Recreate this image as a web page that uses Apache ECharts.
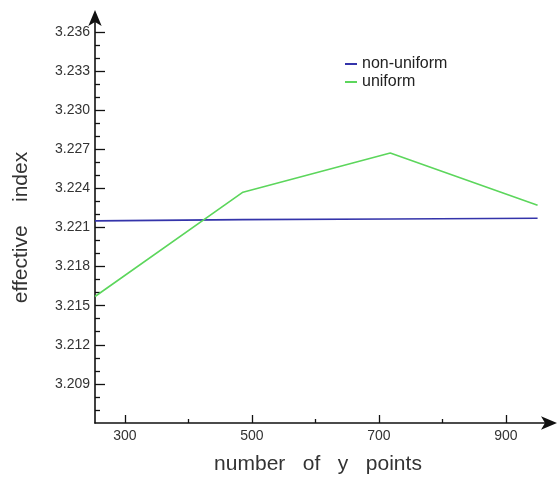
<!DOCTYPE html>
<html>
<head>
<meta charset="utf-8">
<script src="https://cdn.jsdelivr.net/npm/echarts@6/dist/echarts.min.js"></script>
<style>
  html, body { margin: 0; padding: 0; background: #ffffff; }
  #chart { width: 558px; height: 480px; }
</style>
</head>
<body>
<div id="chart"></div>
<script>
// Sample counts along y and the resulting effective index
const xPoints = [253, 486, 718, 950];
const nonUniform = [3.2215, 3.2216, 3.22165, 3.2217];
const uniform = [3.2157, 3.2237, 3.2267, 3.2227];

// Tick positions
const xMajorTicks = [300, 500, 700, 900];
const xMinorTicks = [400, 600, 800];
const yMajorTicks = [3.209, 3.212, 3.215, 3.218, 3.221, 3.224, 3.227, 3.230, 3.233, 3.236];
const yMinorTicks = [3.207, 3.208, 3.210, 3.211, 3.213, 3.214, 3.216, 3.217, 3.219, 3.220,
                     3.222, 3.223, 3.225, 3.226, 3.228, 3.229, 3.231, 3.232, 3.234, 3.235];

const xRange = [253, 968];
const yRange = [3.206, 3.23706];

const fontFamily = 'Liberation Sans, Arial, sans-serif';
const axisColor = '#111';

const chart = echarts.init(document.getElementById('chart'), null, { renderer: 'canvas' });

chart.setOption({
  backgroundColor: '#ffffff',
  animation: false,
  grid: { left: 95, right: 9, top: 18, bottom: 56 },
  legend: {
    orient: 'vertical',
    left: 340,
    top: 51,
    itemWidth: 12,
    itemHeight: 2,
    itemGap: 2,
    icon: 'rect',
    textStyle: { fontFamily: fontFamily, fontSize: 16, color: '#222', padding: [0, 0, 0, 0] },
    data: ['non-uniform', 'uniform']
  },
  xAxis: [
    {
      type: 'value',
      min: xRange[0],
      max: xRange[1],
      name: 'number   of   y   points',
      nameLocation: 'middle',
      nameGap: 31,
      nameTextStyle: { fontFamily: fontFamily, fontSize: 21, color: '#333', padding: [0, 8, 0, 0] },
      splitLine: { show: false },
      axisLine: {
        show: true,
        symbol: ['none', 'arrow'],
        symbolSize: [10, 16],
        symbolOffset: [0, 8],
        lineStyle: { color: axisColor, width: 1.6 }
      },
      axisTick: { show: true, inside: true, length: 8, customValues: xMajorTicks,
                  lineStyle: { color: axisColor, width: 1.3 } },
      axisLabel: { show: true, customValues: xMajorTicks, margin: 6,
                   fontFamily: fontFamily, fontSize: 14, color: '#333' }
    },
    {
      type: 'value',
      min: xRange[0],
      max: xRange[1],
      position: 'bottom',
      splitLine: { show: false },
      axisLine: { show: false },
      axisTick: { show: true, inside: true, length: 4, customValues: xMinorTicks,
                  lineStyle: { color: axisColor, width: 1.3 } },
      axisLabel: { show: false }
    }
  ],
  yAxis: [
    {
      type: 'value',
      min: yRange[0],
      max: yRange[1],
      name: 'effective    index',
      nameLocation: 'middle',
      nameGap: 63,
      nameTextStyle: { fontFamily: fontFamily, fontSize: 21, color: '#333', padding: [0, 14, 0, 0] },
      splitLine: { show: false },
      axisLine: {
        show: true,
        symbol: ['none', 'arrow'],
        symbolSize: [10, 16],
        symbolOffset: [0, 8],
        lineStyle: { color: axisColor, width: 1.6 }
      },
      axisTick: { show: true, inside: true, length: 10, customValues: yMajorTicks,
                  lineStyle: { color: axisColor, width: 1.3 } },
      axisLabel: {
        show: true, customValues: yMajorTicks, margin: 5,
        fontFamily: fontFamily, fontSize: 14, color: '#333',
        formatter: function (v) { return v.toFixed(3); }
      }
    },
    {
      type: 'value',
      min: yRange[0],
      max: yRange[1],
      position: 'left',
      splitLine: { show: false },
      axisLine: { show: false },
      axisTick: { show: true, inside: true, length: 5, customValues: yMinorTicks,
                  lineStyle: { color: axisColor, width: 1.3 } },
      axisLabel: { show: false }
    }
  ],
  series: [
    {
      name: 'non-uniform',
      type: 'line',
      xAxisIndex: 0,
      yAxisIndex: 0,
      showSymbol: false,
      color: '#3434aa',
      lineStyle: { width: 1.6, color: '#3434aa' },
      data: xPoints.map((x, i) => [x, nonUniform[i]])
    },
    {
      name: 'uniform',
      type: 'line',
      xAxisIndex: 0,
      yAxisIndex: 0,
      showSymbol: false,
      color: '#5cd65c',
      lineStyle: { width: 1.6, color: '#5cd65c' },
      data: xPoints.map((x, i) => [x, uniform[i]])
    }
  ]
});
</script>
</body>
</html>
